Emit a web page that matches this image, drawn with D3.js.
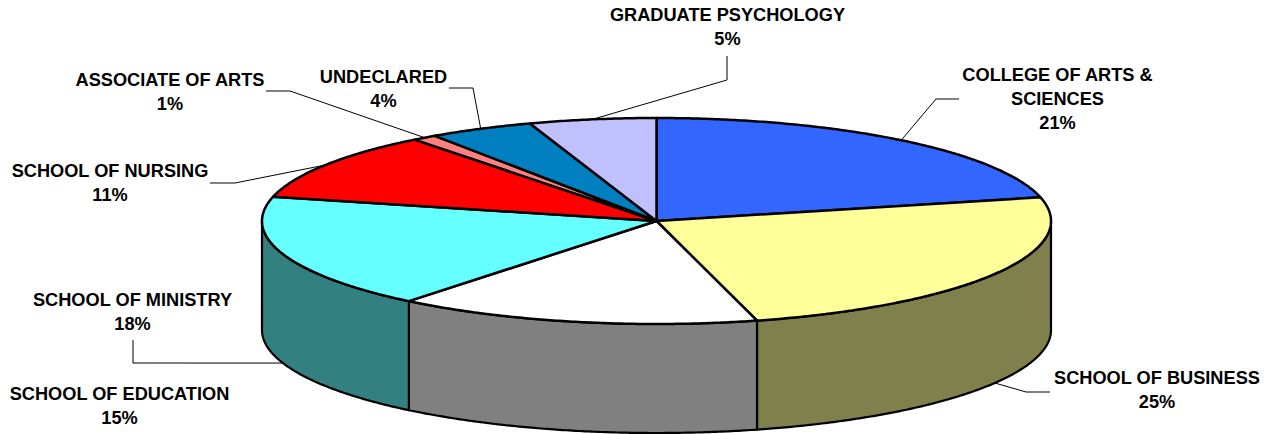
<!DOCTYPE html>
<html>
<head>
<meta charset="utf-8">
<script src="https://cdnjs.cloudflare.com/ajax/libs/d3/7.8.5/d3.min.js"></script>
<style>
html,body{margin:0;padding:0;background:#fff;overflow:hidden}
svg{display:block}
text{font-family:"Liberation Sans",Arial,sans-serif;font-weight:bold;font-size:18.2px;fill:#000;text-anchor:middle}
</style>
</head>
<body>
<svg id="chart" width="1270" height="434"></svg>
<script>
// Data
const categories = ["COLLEGE OF ARTS & SCIENCES","SCHOOL OF BUSINESS","SCHOOL OF EDUCATION","SCHOOL OF MINISTRY","SCHOOL OF NURSING","ASSOCIATE OF ARTS","UNDECLARED","GRADUATE PSYCHOLOGY"];
const shares = [21.3,24.6,14.9,18.0,10.7,1.0,4.3,5.2];
const topColors = ["#3366FF","#FFFF99","#FFFFFF","#66FFFF","#FF0000","#FF8080","#0080C0","#C0C0FF"];
const wallColors = ["#1A3380","#80804D","#808080","#338080","#800000","#804040","#004060","#606080"];

// Layout
const W=1270,H=434,cx=656.5,cy=221,rx=394.5,ry=103,depth=109;
const labelLines = [["COLLEGE OF ARTS &","SCIENCES"],["SCHOOL OF BUSINESS"],["SCHOOL OF EDUCATION"],["SCHOOL OF MINISTRY"],["SCHOOL OF NURSING"],["ASSOCIATE OF ARTS"],["UNDECLARED"],["GRADUATE PSYCHOLOGY"]];
const labelCenterX = [1057.5,1157,119.5,132.5,110,170,383.5,727.5];
const labelFirstY  = [81,384,400,306,177,86,83,21];
const elbows = [
  [[959,99],[936,99]],
  [[1050,392],[1026,392]],
  null,
  [[133,340],[133,363]],
  [[210,183],[235,183]],
  [[266,91],[290,91]],
  [[449,88],[473,88]],
  [[727,56],[727,80]]
];
const lineH = 24;

const svg = d3.select("#chart");
const x = d3.scaleLinear().domain([-1,1]).range([cx-rx,cx+rx]);
const y = d3.scaleLinear().domain([-1,1]).range([cy-ry,cy+ry]);
const pie = d3.pie().sort(null).value(d=>d);
const arcs = pie(shares);
const ex = a => x(Math.sin(a));
const ey = (a,dz=0) => y(-Math.cos(a))+dz;
const line = d3.line();
const samples = (a0,a1) => { const n=Math.max(2,Math.ceil((a1-a0)*120)); return d3.range(n+1).map(i=>a0+(a1-a0)*i/n); };

// Walls (front half only)
const lo=Math.PI/2, hi=Math.PI*1.5;
arcs.forEach((d,i)=>{
  const a0=Math.max(d.startAngle,lo), a1=Math.min(d.endAngle,hi);
  if(a1<=a0) return;
  const s=samples(a0,a1);
  const pts=s.map(a=>[ex(a),ey(a)]).concat(s.slice().reverse().map(a=>[ex(a),ey(a,depth)]));
  svg.append("path").attr("d",line(pts)+"Z").attr("fill",wallColors[i]).attr("stroke","#000").attr("stroke-width",2.2).attr("stroke-linejoin","round");
});

// Top slices
arcs.forEach((d,i)=>{
  const pts=[[cx,cy]].concat(samples(d.startAngle,d.endAngle).map(a=>[ex(a),ey(a)]));
  svg.append("path").attr("d",line(pts)+"Z").attr("fill",topColors[i]).attr("stroke","#000").attr("stroke-width",2.5).attr("stroke-linejoin","round");
});

// Leader lines: elbow points then the slice's mid-angle on the rim
arcs.forEach((d,i)=>{
  if(!elbows[i]) return;
  const m=(d.startAngle+d.endAngle)/2;
  const front=Math.cos(m)<0;
  const end=[ex(m),ey(m,front?depth:0)];
  svg.append("path").attr("d",line(elbows[i].concat([end]))).attr("fill","none").attr("stroke","#000").attr("stroke-width",1);
});

// Labels
categories.forEach((c,i)=>{
  const t=svg.append("text").attr("x",labelCenterX[i]).attr("aria-label",c);
  const rows=labelLines[i].concat([Math.round(shares[i])+"%"]);
  rows.forEach((r,k)=>t.append("tspan").attr("x",labelCenterX[i]).attr("y",labelFirstY[i]+k*lineH).text(r));
});
</script>
</body>
</html>
